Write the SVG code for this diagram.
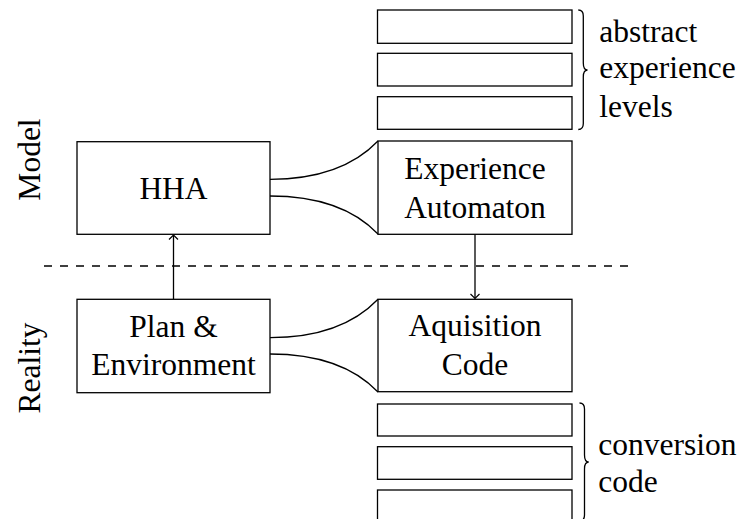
<svg xmlns="http://www.w3.org/2000/svg" width="738" height="519" viewBox="0 0 738 519">
<defs>
<style>
.box{fill:#fff;stroke:#000;stroke-width:1.3}
.ln{fill:none;stroke:#000;stroke-width:1.3}
.t{font-family:"Liberation Serif","Times New Roman",serif;font-size:31.5px;fill:#000}
.c{text-anchor:middle}
</style>
<marker id="arr" viewBox="-6 -6 8 12" markerWidth="8" markerHeight="12" refX="0" refY="0" orient="auto" markerUnits="userSpaceOnUse">
<path d="M -4.5 -4.5 Q -1.2 -1.2 0 0 Q -1.2 1.2 -4.5 4.5" fill="none" stroke="#000" stroke-width="1.2"/>
</marker>
</defs>
<rect width="738" height="519" fill="#fff"/>
<g id="labels">
<text class="t c" transform="translate(40,159.5) rotate(-90)">Model</text>
<text class="t c" transform="translate(40,368) rotate(-90)">Reality</text>
</g>
<g id="connectors">
<line class="ln" x1="44" y1="266" x2="632" y2="266" stroke-dasharray="8 8"/>
<path class="ln" d="M270 179.3 C320 179.3 355 165 378 141"/>
<path class="ln" d="M270 196 C320 196 355 210 378 234"/>
<path class="ln" d="M270 337.7 C320 337.7 355 323.3 378 299.3"/>
<path class="ln" d="M270 354 C320 354 355 368 378 392"/>
<line class="ln" x1="173.5" y1="299" x2="173.5" y2="235" marker-end="url(#arr)"/>
<line class="ln" x1="475" y1="234" x2="475" y2="298.5" marker-end="url(#arr)"/>
</g>
<g id="hha">
<rect class="box" x="77" y="141.7" width="193" height="92.6"/>
<text class="t c" x="173.5" y="198.5">HHA</text>
</g>
<g id="plan">
<rect class="box" x="77" y="299.3" width="193" height="93.4"/>
<text class="t c" x="173.5" y="336.5">Plan &amp;</text>
<text class="t c" x="173.5" y="375">Environment</text>
</g>
<g id="experience">
<rect class="box" x="378" y="141" width="194" height="93.3"/>
<text class="t c" x="475" y="178.5">Experience</text>
<text class="t c" x="475" y="218">Automaton</text>
</g>
<g id="aquisition">
<rect class="box" x="378" y="299.3" width="194" height="92.4"/>
<text class="t c" x="475" y="336">Aquisition</text>
<text class="t c" x="475" y="375">Code</text>
</g>
<g id="abstract-levels">
<rect class="box" x="377.5" y="10" width="194.5" height="33.3"/>
<rect class="box" x="377.5" y="53.3" width="194.5" height="32.7"/>
<rect class="box" x="377.5" y="96.7" width="194.5" height="32.6"/>
<path class="ln" d="M578.3 10 C581.8 10 583.3 12 583.3 16 L583.3 63 C583.3 67.5 584.8 70 587.5 70 C584.8 70 583.3 72.5 583.3 77 L583.3 123.5 C583.3 127.5 581.8 129.5 578.3 129.5"/>
<text class="t" x="599.3" y="41.7">abstract</text>
<text class="t" x="599.3" y="78.3">experience</text>
<text class="t" x="599.3" y="116.7">levels</text>
</g>
<g id="conversion-code">
<rect class="box" x="377.5" y="404" width="194.5" height="32"/>
<rect class="box" x="377.5" y="446.7" width="194.5" height="32.6"/>
<rect class="box" x="377.5" y="490" width="194.5" height="40"/>
<path class="ln" d="M579.5 403 C583 403 584.5 405 584.5 409 L584.5 455 C584.5 459.5 586 462 588.7 462 C586 462 584.5 464.5 584.5 469 L584.5 515 C584.5 519 583 521 579.5 521"/>
<text class="t" x="598.3" y="455">conversion</text>
<text class="t" x="598.3" y="491.7">code</text>
</g>
</svg>
